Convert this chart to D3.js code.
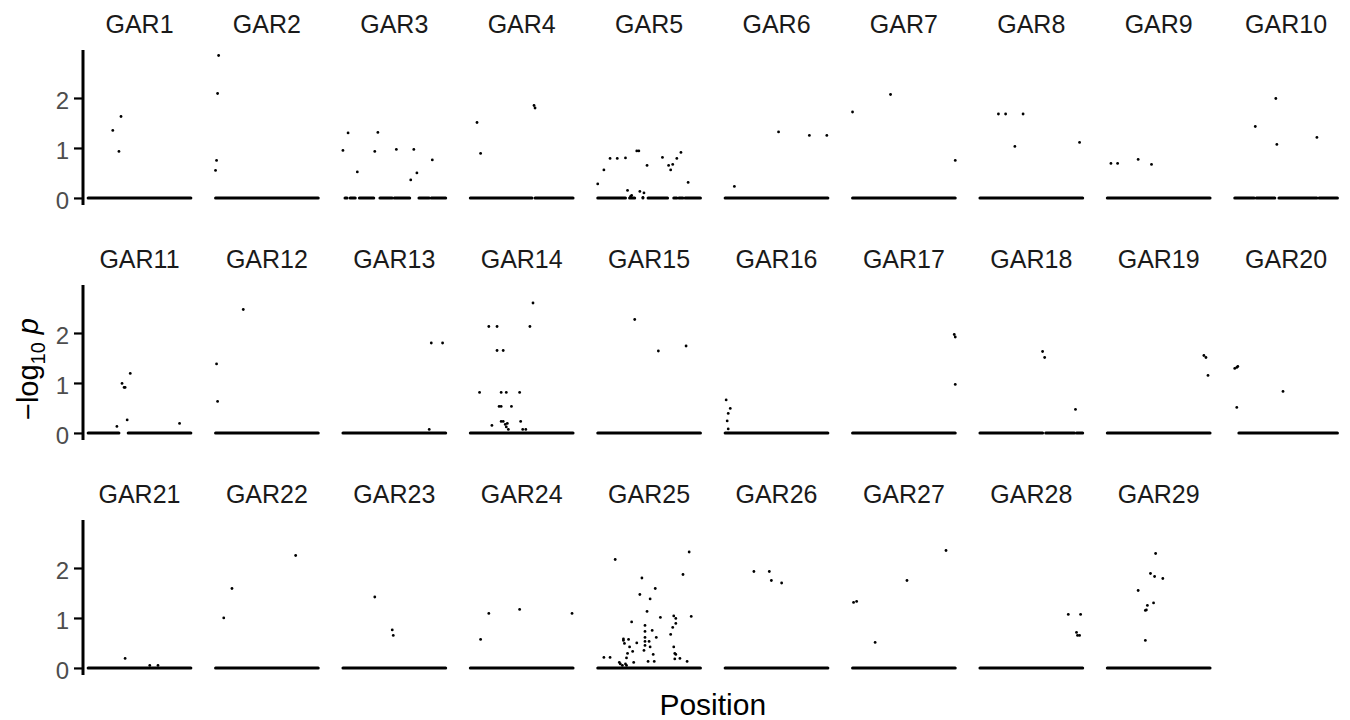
<!DOCTYPE html>
<html>
<head>
<meta charset="utf-8">
<script src="https://cdn.jsdelivr.net/npm/d3@7"></script>
<style>
  body { margin: 0; background: #fff; }
  text { font-family: "Liberation Sans", Arial, Helvetica, sans-serif; }
</style>
</head>
<body>
<div id="chart"></div>
<script>
// facet names, one per panel
var genes = ["GAR1","GAR2","GAR3","GAR4","GAR5","GAR6","GAR7","GAR8","GAR9","GAR10",
             "GAR11","GAR12","GAR13","GAR14","GAR15","GAR16","GAR17","GAR18","GAR19","GAR20",
             "GAR21","GAR22","GAR23","GAR24","GAR25","GAR26","GAR27","GAR28","GAR29"];

// points above zero: [relative position, -log10 p]
var hits = [
  [[0.24,1.35],[0.32,1.63],[0.30,0.93]],
  [[0.03,2.85],[0.02,2.09],[0.01,0.75],[0.00,0.55]],
  [[0.00,0.95],[0.05,1.30],[0.14,0.52],[0.31,0.93],[0.34,1.31],[0.52,0.97],[0.69,0.97],[0.72,0.50],[0.66,0.36],[0.87,0.76]],
  [[0.065,1.51],[0.10,0.89],[0.62,1.85],[0.63,1.80]],
  [[0.00,0.28],[0.06,0.56],[0.12,0.79],[0.19,0.79],[0.27,0.80],[0.38,0.94],[0.40,0.94],[0.48,0.65],[0.63,0.81],[0.69,0.65],
   [0.71,0.56],[0.73,0.67],[0.77,0.79],[0.81,0.91],[0.88,0.31],[0.29,0.15],[0.33,0.05],[0.32,0.03],[0.41,0.13],[0.45,0.10],[0.44,0.01]],
  [[0.09,0.23],[0.52,1.32],[0.82,1.25],[0.99,1.25]],
  [[0.00,1.72],[0.37,2.07],[1.00,0.75]],
  [[0.18,1.68],[0.25,1.68],[0.42,1.68],[0.34,1.03],[0.97,1.11]],
  [[0.035,0.69],[0.10,0.69],[0.30,0.77],[0.43,0.67]],
  [[0.20,1.43],[0.40,1.99],[0.41,1.07],[0.80,1.21]],
  [[0.28,0.13],[0.33,0.99],[0.35,0.91],[0.36,0.91],[0.41,1.19],[0.38,0.26],[0.89,0.19]],
  [[0.01,1.38],[0.02,0.63],[0.27,2.47]],
  [[0.84,0.07],[0.86,1.80],[0.97,1.80]],
  [[0.61,2.60],[0.18,2.13],[0.26,2.13],[0.58,2.13],[0.26,1.65],[0.32,1.65],[0.09,0.81],[0.30,0.81],[0.35,0.81],[0.48,0.81],
   [0.28,0.53],[0.30,0.53],[0.40,0.53],[0.30,0.23],[0.32,0.23],[0.49,0.23],[0.21,0.15],[0.34,0.17],[0.36,0.19],[0.35,0.12],
   [0.37,0.07],[0.51,0.07],[0.54,0.07]],
  [[0.36,2.27],[0.59,1.64],[0.86,1.74]],
  [[0.01,0.66],[0.05,0.49],[0.03,0.39],[0.02,0.24],[0.03,0.08]],
  [[0.99,1.97],[1.00,1.92],[1.00,0.97]],
  [[0.61,1.63],[0.63,1.51],[0.93,0.47]],
  [[0.94,1.55],[0.96,1.51],[0.98,1.15]],
  [[0.00,1.29],[0.02,1.31],[0.03,1.33],[0.02,0.51],[0.47,0.83]],
  [[0.36,0.19],[0.60,0.05],[0.68,0.05]],
  [[0.08,1.00],[0.16,1.59],[0.78,2.25]],
  [[0.31,1.42],[0.48,0.76],[0.49,0.65]],
  [[0.10,0.57],[0.18,1.09],[0.48,1.17],[0.99,1.09]],
  [[0.17,2.17],[0.89,2.32],[0.83,1.87],[0.43,1.80],[0.56,1.59],[0.41,1.47],[0.51,1.38],[0.48,1.13],[0.61,1.01],[0.74,1.04],
   [0.76,0.99],[0.91,1.03],[0.33,0.92],[0.46,0.85],[0.76,0.89],[0.73,0.81],[0.46,0.73],[0.53,0.75],[0.71,0.67],[0.25,0.58],
   [0.25,0.55],[0.30,0.57],[0.46,0.61],[0.57,0.61],[0.38,0.50],[0.46,0.53],[0.50,0.53],[0.26,0.49],[0.31,0.42],[0.46,0.45],
   [0.51,0.42],[0.45,0.35],[0.34,0.33],[0.74,0.42],[0.29,0.29],[0.54,0.27],[0.75,0.29],[0.76,0.27],[0.06,0.21],[0.12,0.21],
   [0.28,0.20],[0.80,0.19],[0.75,0.18],[0.49,0.13],[0.55,0.13],[0.35,0.11],[0.87,0.13],[0.21,0.11],[0.22,0.08],[0.24,0.05],
   [0.27,0.08],[0.28,0.05]],
  [[0.28,1.93],[0.43,1.93],[0.45,1.75],[0.55,1.70]],
  [[0.01,1.31],[0.04,1.33],[0.22,0.51],[0.53,1.75],[0.91,2.35]],
  [[0.86,1.07],[0.98,1.07],[0.94,0.71],[0.95,0.65],[0.97,0.65]],
  [[0.47,2.29],[0.42,1.89],[0.46,1.83],[0.54,1.79],[0.30,1.55],[0.45,1.30],[0.39,1.25],[0.37,1.15],[0.38,1.16],[0.37,0.55]]
];

// stretches of positions where -log10 p is 0 (dense dots merge into a line)
var zeroRuns = [
  [[0,1]], [[0,1]],
  [[0.02,0.04],[0.07,0.12],[0.16,0.30],[0.36,0.48],[0.50,0.65],[0.74,0.84],[0.86,1]],
  [[0,0.60],[0.63,1]],
  [[0,0.27],[0.31,0.36],[0.44,0.44],[0.49,0.68],[0.74,0.77],[0.79,0.83],[0.85,1]],
  [[0,1]], [[0,1]], [[0,1]], [[0,1]],
  [[0,0.19],[0.21,0.39],[0.43,0.80],[0.82,1]],
  [[0,0.30],[0.39,1]],
  [[0,1]], [[0,1]], [[0,1]], [[0,1]], [[0,1]], [[0,1]],
  [[0,0.61],[0.64,0.92],[0.94,1]],
  [[0,1]],
  [[0.04,1]],
  [[0,1]], [[0,1]], [[0,1]], [[0,1]], [[0,1]], [[0,1]], [[0,1]], [[0,1]], [[0,1]]
];

var yTicks = [0, 1, 2];

var width = 1350, height = 720;
var nCol = 10;
var panelW = 113, panelH = 155;
var colStep = 127.4, rowStep = 235;
var left0 = 83, top0 = 50;

var svg = d3.select("#chart").append("svg")
  .attr("width", width)
  .attr("height", height);

svg.append("rect").attr("width", width).attr("height", height).attr("fill", "#fff");

var y0 = d3.scaleLinear().domain([-0.141, 2.96]).range([panelH, 0]);

genes.forEach(function(g, i) {
  var col = i % nCol, row = Math.floor(i / nCol);
  var px = left0 + col * colStep, py = top0 + row * rowStep;
  var x = d3.scaleLinear().domain([-0.05, 1.05]).range([0, panelW]);

  var panel = svg.append("g").attr("transform", "translate(" + px + "," + py + ")");

  // strip title
  panel.append("text")
    .attr("x", x(0.5))
    .attr("y", -17)
    .attr("text-anchor", "middle")
    .attr("font-size", 25)
    .attr("fill", "#1a1a1a")
    .text(g);

  // y axis only on the first column
  if (col === 0) {
    var ax = panel.append("g")
      .call(d3.axisLeft(y0).tickValues(yTicks).tickFormat(d3.format("d")).tickSize(9).tickPadding(5));
    ax.select(".domain").attr("stroke", "#000").attr("stroke-width", 3)
      .attr("d", "M0,0V" + panelH);
    ax.selectAll(".tick line").attr("stroke", "#000").attr("stroke-width", 2.2);
    ax.selectAll(".tick text")
      .attr("font-size", 24)
      .attr("font-family", "Liberation Sans, Arial, sans-serif")
      .attr("fill", "#4d4d4d")
      .attr("dy", "0.42em");
  }

  // zero line
  panel.selectAll("line.zero")
    .data(zeroRuns[i])
    .enter().append("line")
    .attr("class", "zero")
    .attr("x1", function(d) { return x(d[0]); })
    .attr("x2", function(d) { return x(d[1]); })
    .attr("y1", y0(0))
    .attr("y2", y0(0))
    .attr("stroke", "#000")
    .attr("stroke-width", 3)
    .attr("stroke-linecap", "round");

  // points
  panel.selectAll("circle")
    .data(hits[i])
    .enter().append("circle")
    .attr("cx", function(d) { return x(d[0]); })
    .attr("cy", function(d) { return y0(d[1]); })
    .attr("r", 1.4)
    .attr("fill", "#000");
});

// axis titles
var plotMid = left0 + ((nCol - 1) * colStep + panelW) / 2;
svg.append("text")
  .attr("x", plotMid)
  .attr("y", 715)
  .attr("text-anchor", "middle")
  .attr("font-size", 30)
  .attr("fill", "#000")
  .text("Position");

var yt = svg.append("text")
  .attr("transform", "translate(38,369) rotate(-90)")
  .attr("text-anchor", "middle")
  .attr("font-size", 29)
  .attr("fill", "#000");
yt.append("tspan").text("\u2212log");
yt.append("tspan").attr("font-size", 20).attr("dy", 7).text("10");
yt.append("tspan").attr("dy", -7).attr("dx", 8).attr("font-style", "italic").text("p");
</script>
</body>
</html>
